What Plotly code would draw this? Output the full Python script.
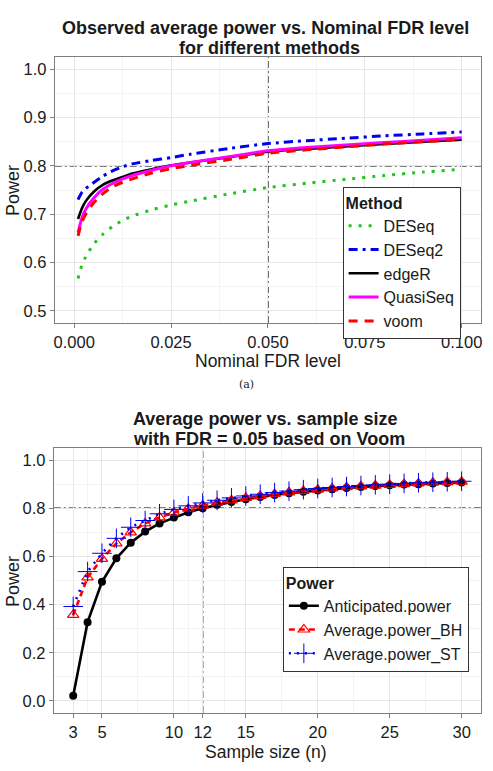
import plotly.graph_objects as go

# ---------------- data: panel (a) ----------------
fdr_levels = [0.001, 0.002, 0.003, 0.005, 0.0075, 0.01, 0.0125, 0.015, 0.02, 0.025,
              0.03, 0.04, 0.05, 0.06, 0.07, 0.08, 0.09, 0.1]
power_DESeq = [0.567, 0.595, 0.612, 0.638, 0.659, 0.675, 0.687, 0.696, 0.709, 0.719,
               0.727, 0.742, 0.755, 0.764, 0.772, 0.780, 0.787, 0.793]
power_DESeq2 = [0.730, 0.745, 0.753, 0.765, 0.779, 0.790, 0.798, 0.804, 0.811, 0.817,
                0.824, 0.836, 0.846, 0.852, 0.857, 0.862, 0.866, 0.870]
power_edgeR = [0.690, 0.712, 0.727, 0.746, 0.761, 0.770, 0.777, 0.784, 0.793, 0.801,
               0.807, 0.818, 0.829, 0.835, 0.840, 0.845, 0.850, 0.854]
power_QuasiSeq = [0.662, 0.692, 0.710, 0.733, 0.752, 0.764, 0.773, 0.780, 0.791, 0.800,
                  0.807, 0.819, 0.831, 0.838, 0.843, 0.848, 0.853, 0.858]
power_voom = [0.655, 0.684, 0.700, 0.723, 0.743, 0.757, 0.766, 0.773, 0.785, 0.794,
              0.801, 0.813, 0.826, 0.833, 0.839, 0.845, 0.850, 0.855]
fdr_ticks = [0.0, 0.025, 0.05, 0.075, 0.1]
fdr_ticklabels = ["0.000", "0.025", "0.050", "0.075", "0.100"]
power_ticks_a = [0.5, 0.6, 0.7, 0.8, 0.9, 1.0]

# ---------------- data: panel (b) ----------------
sample_size = list(range(3, 31))
anticipated_power = [0.022, 0.327, 0.495, 0.592, 0.657, 0.703, 0.737, 0.761, 0.783, 0.800,
                     0.814, 0.826, 0.837, 0.847, 0.855, 0.862, 0.868, 0.874, 0.879, 0.884,
                     0.888, 0.892, 0.895, 0.898, 0.900, 0.903, 0.905, 0.907]
average_power_BH = [0.357, 0.513, 0.590, 0.654, 0.700, 0.737, 0.762, 0.782, 0.798, 0.811,
                    0.823, 0.833, 0.843, 0.851, 0.859, 0.866, 0.872, 0.877, 0.882, 0.887,
                    0.891, 0.894, 0.897, 0.900, 0.903, 0.906, 0.908, 0.910]
average_power_ST = [0.392, 0.537, 0.613, 0.675, 0.721, 0.749, 0.777, 0.795, 0.810, 0.822,
                    0.833, 0.843, 0.851, 0.858, 0.865, 0.871, 0.877, 0.882, 0.886, 0.890,
                    0.894, 0.897, 0.900, 0.903, 0.906, 0.908, 0.910, 0.912]
n_ticks = [3, 5, 10, 12, 15, 20, 25, 30]
power_ticks_b = [0.0, 0.2, 0.4, 0.6, 0.8, 1.0]

W, H = 493, 771
FONT = "Liberation Sans, Arial, Helvetica, sans-serif"
TXT = "#1a1a1a"


def px_x(p):
    return p / W


def px_y(p):
    return 1 - p / H


fig = go.Figure()

# panel (a) traces
methods = [
    ("DESeq", power_DESeq, "#1ec51e", "3px,7px", 3),
    ("DESeq2", power_DESeq2, "#0000ee", "9px,5px,3px,5px", 3),
    ("edgeR", power_edgeR, "#000000", "solid", 2.6),
    ("QuasiSeq", power_QuasiSeq, "#ff00ff", "solid", 3),
    ("voom", power_voom, "#ff0000", "9px,7px", 3),
]
for name, vals, col, dash, w in methods:
    fig.add_trace(go.Scatter(
        x=fdr_levels, y=vals, name=name, mode="lines",
        line=dict(color=col, dash=dash, width=w, shape="spline", smoothing=0.6),
        xaxis="x", yaxis="y", legend="legend"))

# panel (b) traces
fig.add_trace(go.Scatter(
    x=sample_size, y=anticipated_power, name="Anticipated.power", mode="lines+markers",
    line=dict(color="black", width=2.6),
    marker=dict(symbol="circle", size=8, color="black"),
    xaxis="x2", yaxis="y2", legend="legend2"))
fig.add_trace(go.Scatter(
    x=sample_size, y=average_power_BH, name="Average.power_BH", mode="lines+markers",
    line=dict(color="#ff0000", width=2.6, dash="6px,4px"),
    marker=dict(symbol="triangle-up-open", size=10, color="#ff0000",
                line=dict(width=1.2, color="#ff0000")),
    xaxis="x2", yaxis="y2", legend="legend2"))
fig.add_trace(go.Scatter(
    x=sample_size, y=average_power_ST, name="Average.power_ST", mode="lines+markers",
    line=dict(color="#0000ee", width=2.6, dash="2px,6px"),
    marker=dict(symbol="cross-thin-open", size=14, color="#0000ee",
                line=dict(width=1, color="#0000ee")),
    xaxis="x2", yaxis="y2", legend="legend2"))

grid_major = "#e6e6e6"
grid_minor = "#f3f3f3"
axis_common = dict(
    showline=True, mirror=True, linecolor="#7f7f7f", linewidth=1,
    ticks="outside", ticklen=4, tickcolor="#7f7f7f",
    tickfont=dict(family=FONT, size=16.5, color=TXT),
    showgrid=True, gridcolor=grid_major, gridwidth=1, zeroline=False,
)

LEG_FONT = 16
fig.update_layout(
    width=W, height=H,
    margin=dict(l=0, r=0, t=0, b=0),
    paper_bgcolor="white", plot_bgcolor="white",
    font=dict(family=FONT, color=TXT),
    xaxis=dict(domain=[px_x(54), px_x(482)], range=[-0.005, 0.105],
               tickmode="array", tickvals=fdr_ticks, ticktext=fdr_ticklabels,
               minor=dict(tickmode="array",
                          tickvals=[0.0125, 0.0375, 0.0625, 0.0875],
                          showgrid=True, gridcolor=grid_minor, ticks=""),
               anchor="y", **axis_common),
    yaxis=dict(domain=[px_y(323), px_y(57)], range=[0.475, 1.025],
               tickmode="array", tickvals=power_ticks_a, tickformat=".1f",
               minor=dict(tickmode="array", tickvals=[0.55, 0.65, 0.75, 0.85, 0.95],
                          showgrid=True, gridcolor=grid_minor, ticks=""),
               anchor="x", **axis_common),
    xaxis2=dict(domain=[px_x(53), px_x(482)], range=[1.65, 31.35],
                tickmode="array", tickvals=n_ticks,
                minor=dict(tickmode="array",
                           tickvals=[4, 7.5, 11, 13.5, 17.5, 22.5, 27.5],
                           showgrid=True, gridcolor=grid_minor, ticks=""),
                anchor="y2", **axis_common),
    yaxis2=dict(domain=[px_y(713), px_y(448)], range=[-0.05, 1.05],
                tickmode="array", tickvals=power_ticks_b, tickformat=".1f",
                minor=dict(tickmode="array", tickvals=[0.1, 0.3, 0.5, 0.7, 0.9],
                           showgrid=True, gridcolor=grid_minor, ticks=""),
                anchor="x2", **axis_common),
    legend=dict(x=px_x(343), y=px_y(187), xanchor="left", yanchor="top",
                bgcolor="white", bordercolor="#333333", borderwidth=1,
                font=dict(family=FONT, size=LEG_FONT, color=TXT),
                title=dict(text="<b>Method</b>", font=dict(family=FONT, size=LEG_FONT, color=TXT)),
                tracegroupgap=0, itemwidth=30),
    legend2=dict(x=px_x(283), y=px_y(567), xanchor="left", yanchor="top",
                 bgcolor="white", bordercolor="#333333", borderwidth=1,
                 font=dict(family=FONT, size=LEG_FONT, color=TXT),
                 title=dict(text="<b>Power</b>", font=dict(family=FONT, size=LEG_FONT, color=TXT)),
                 tracegroupgap=0, itemwidth=30),
    showlegend=True,
)

# reference lines
ref_line = dict(color="#000000", width=1.3, dash="7px,3px,2px,3px")
fig.add_shape(type="line", xref="x", yref="y domain", x0=0.05, x1=0.05, y0=0, y1=1, line=ref_line, layer="below")
fig.add_shape(type="line", xref="x domain", yref="y", x0=0, x1=1, y0=0.8, y1=0.8, line=ref_line, layer="below")
fig.add_shape(type="line", xref="x2", yref="y2 domain", x0=12, x1=12, y0=0, y1=1, line=ref_line, layer="below")
fig.add_shape(type="line", xref="x2 domain", yref="y2", x0=0, x1=1, y0=0.8, y1=0.8, line=ref_line, layer="below")

# titles, axis labels, captions
def ann(text, x, y, size, bold=False, angle=0, family=FONT):
    fig.add_annotation(text=f"<b>{text}</b>" if bold else text,
                       xref="paper", yref="paper", x=px_x(x), y=px_y(y),
                       xanchor="center", yanchor="middle", showarrow=False,
                       textangle=angle, font=dict(family=family, size=size, color=TXT))

ann("Observed average power vs. Nominal FDR level", 266, 28, 18, bold=True)
ann("for different methods", 270, 48, 18, bold=True)
ann("Power", 12, 190, 18, angle=-90)
ann("Nominal FDR level", 268, 361, 17.5)
ann("(a)", 246, 384, 11, family="DejaVu Serif, serif")

ann("Average power vs. sample size", 265, 419, 18, bold=True)
ann("with FDR = 0.05 based on Voom", 269, 439, 18, bold=True)
ann("Power", 12, 581, 18, angle=-90)
ann("Sample size (n)", 266, 752, 17.5)
ann("(b)", 246, 776, 11, family="DejaVu Serif, serif")

fig.write_html("out.html")
